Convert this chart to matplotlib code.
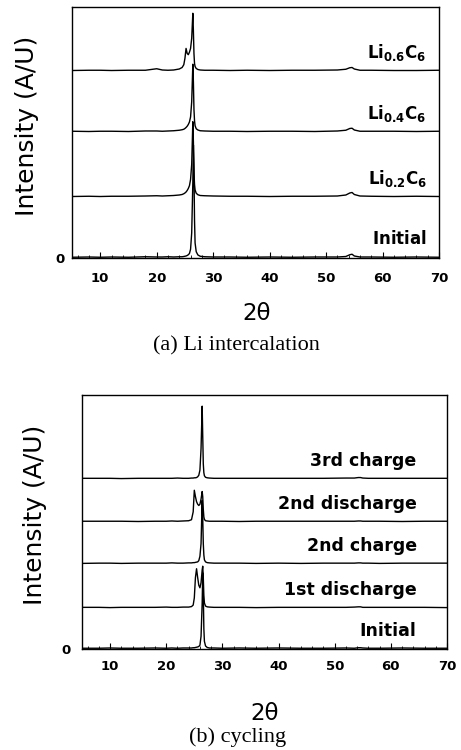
import matplotlib
matplotlib.use("Agg")
import matplotlib.pyplot as plt
from matplotlib.ticker import MultipleLocator

plt.rcParams['font.family'] = ['DejaVu Sans']
plt.rcParams['mathtext.fontset'] = 'dejavusans'

# shared 2-theta sampling (degrees)
two_theta = [5, 8, 10, 12, 15, 18, 20, 21, 22, 23, 24, 24.5, 24.8, 25.0, 25.2,
             25.4, 25.6, 25.8, 26.0, 26.2, 26.4, 26.5, 26.6, 26.7, 26.8, 27.0,
             27.3, 27.7, 28.5, 30, 33, 36, 40, 44, 48, 52, 53.5, 54.2, 54.6,
             55.0, 56, 58, 62, 66, 70]

# ---- (a) Li intercalation ----
labels_a = [r'$\mathbf{Initial}$', r'$\mathbf{Li_{0.2}C_6}$',
            r'$\mathbf{Li_{0.4}C_6}$', r'$\mathbf{Li_{0.6}C_6}$']
offsets_a = [0, 24.3, 50.2, 74.5]
initial_a = [0.3, 0.4, 0.3, 0.4, 0.3, 0.5, 0.4, 0.4, 0.5, 0.4, 0.5, 0.5, 0.6, 0.7, 0.8,
             1.0, 1.3, 1.8, 3.5, 10, 30, 45, 35, 15, 6, 2.5, 1.2, 0.7, 0.5, 0.4,
             0.4, 0.3, 0.4, 0.3, 0.4, 0.4, 0.6, 1.3, 1.5, 0.8, 0.4, 0.4, 0.3, 0.4, 0.3]
li02 = [0.2, 0.3, 0.2, 0.3, 0.3, 0.4, 0.5, 0.4, 0.5, 0.6, 0.8, 1.0, 1.3, 1.6, 2.0,
        2.6, 3.4, 4.5, 7, 13, 30, 22, 10, 5, 2.8, 1.5, 0.9, 0.6, 0.5, 0.4,
        0.3, 0.3, 0.2, 0.3, 0.3, 0.4, 0.8, 1.6, 1.8, 1.0, 0.4, 0.3, 0.2, 0.3, 0.2]
li04 = [0.3, 0.2, 0.3, 0.3, 0.2, 0.4, 0.4, 0.3, 0.4, 0.5, 0.7, 0.9, 1.1, 1.4, 1.8,
        2.3, 3.0, 4.0, 6, 12, 27, 20, 9, 4.5, 2.5, 1.3, 0.8, 0.5, 0.4, 0.3,
        0.3, 0.2, 0.3, 0.3, 0.2, 0.4, 0.7, 1.4, 1.5, 0.8, 0.3, 0.3, 0.3, 0.2, 0.3]
li06 = [0.2, 0.3, 0.3, 0.2, 0.3, 0.3, 0.9, 0.4, 0.3, 0.4, 0.8, 1.4, 2.5, 5, 9,
        7, 6.5, 7.5, 9, 13, 23, 16, 7, 3, 1.8, 1.0, 0.6, 0.4, 0.3, 0.3,
        0.2, 0.3, 0.2, 0.3, 0.3, 0.4, 0.7, 1.3, 1.4, 0.8, 0.3, 0.3, 0.2, 0.2, 0.3]
series_a = [initial_a, li02, li04, li06]

# ---- (b) cycling ----
labels_b = ['Initial', '1st discharge', '2nd charge', '2nd discharge', '3rd charge']
offsets_b = [0, 16.1, 33.5, 50.0, 66.9]
initial_b = [0.3, 0.3, 0.4, 0.3, 0.3, 0.4, 0.3, 0.4, 0.3, 0.4, 0.4, 0.4, 0.5, 0.5, 0.6,
             0.7, 0.8, 1.0, 1.5, 5, 18, 30, 22, 8, 3, 1.2, 0.6, 0.4, 0.4, 0.3,
             0.4, 0.3, 0.4, 0.3, 0.3, 0.4, 0.3, 0.5, 0.5, 0.4, 0.3, 0.3, 0.4, 0.3, 0.3]
dis1 = [0.3, 0.3, 0.2, 0.3, 0.3, 0.3, 0.4, 0.3, 0.3, 0.4, 0.4, 0.6, 1.2, 4, 12,
        15.5, 12, 9, 8, 10, 15, 16.5, 12, 5, 2, 0.8, 0.5, 0.4, 0.3, 0.3,
        0.3, 0.2, 0.3, 0.3, 0.3, 0.3, 0.4, 0.5, 0.5, 0.3, 0.3, 0.3, 0.3, 0.3, 0.2]
chg2 = [0.2, 0.3, 0.3, 0.2, 0.3, 0.3, 0.3, 0.4, 0.3, 0.3, 0.4, 0.4, 0.5, 0.5, 0.6,
        0.7, 0.8, 1.3, 3, 8, 25, 18, 8, 3.5, 1.6, 0.8, 0.5, 0.4, 0.3, 0.3,
        0.3, 0.2, 0.3, 0.2, 0.3, 0.3, 0.3, 0.4, 0.4, 0.3, 0.3, 0.2, 0.3, 0.3, 0.3]
dis2 = [0.3, 0.3, 0.3, 0.3, 0.2, 0.3, 0.3, 0.4, 0.3, 0.4, 0.5, 0.9, 4, 12.5, 10,
        8, 7, 6.5, 7, 9, 12, 10, 5, 2, 1.0, 0.5, 0.4, 0.3, 0.3, 0.3,
        0.2, 0.3, 0.3, 0.3, 0.3, 0.3, 0.3, 0.4, 0.4, 0.3, 0.3, 0.3, 0.2, 0.3, 0.3]
chg3 = [0.3, 0.3, 0.3, 0.2, 0.3, 0.3, 0.3, 0.3, 0.4, 0.3, 0.3, 0.4, 0.4, 0.5, 0.5,
        0.6, 0.9, 1.5, 3.5, 12, 28.7, 17, 6, 2.5, 1.3, 0.7, 0.5, 0.4, 0.3, 0.3,
        0.3, 0.3, 0.3, 0.3, 0.3, 0.4, 0.4, 0.6, 0.6, 0.4, 0.3, 0.3, 0.3, 0.3, 0.3]
series_b = [initial_b, dis1, chg2, dis2, chg3]

xticks = [10, 20, 30, 40, 50, 60, 70]

W, H = 461, 750
fig = plt.figure(figsize=(W / 100, H / 100), dpi=100)


def make_axes(l, t, r, b):
    return fig.add_axes([l / W, 1 - b / H, (r - l) / W, (b - t) / H])


def style(ax, xpad, ypad):
    ax.set_xlim(5, 70)
    ax.set_ylim(0, 100)
    ax.set_xticks(xticks)
    ax.xaxis.set_minor_locator(MultipleLocator(2))
    ax.set_yticks([0])
    ax.tick_params(axis='x', which='major', direction='in', length=4, width=0.8,
                   pad=xpad, labelsize=9.5)
    ax.tick_params(axis='x', which='minor', direction='in', length=2, width=0.6)
    ax.tick_params(axis='y', direction='in', length=0, pad=ypad, labelsize=9.5)
    for lab in ax.get_xticklabels() + ax.get_yticklabels():
        lab.set_fontweight('bold')
    for s in ax.spines.values():
        s.set_linewidth(1.0)


# top panel
ax1 = make_axes(72, 7, 439, 258)
for ys, off, lab in zip(series_a, offsets_a, labels_a):
    ax1.plot(two_theta, [v + off for v in ys], color='black', lw=1.0)
    ax1.text(67.8, off + 7.5, lab, ha='right', va='center', fontsize=12)
style(ax1, 10, 5)

# bottom panel
ax2 = make_axes(82, 395, 447, 649)
for ys, off, lab in zip(series_b, offsets_b, labels_b):
    ax2.plot(two_theta, [v + off for v in ys], color='black', lw=1.0)
    ax2.text(64.6, off + 7.0, lab, ha='right', va='center', fontsize=12.5,
             fontweight='bold')
style(ax2, 8, 8)

# axis titles / captions
fig.text(27 / W, 1 - 126 / H, 'Intensity (A/U)', rotation=90, ha='center',
         va='center', fontsize=18)
fig.text(35 / W, 1 - 515 / H, 'Intensity (A/U)', rotation=90, ha='center',
         va='center', fontsize=18)
fig.text(257 / W, 1 - 313 / H, '2θ', ha='center', va='center', fontsize=16.5)
fig.text(265 / W, 1 - 713 / H, '2θ', ha='center', va='center', fontsize=16.5)
fig.text(236 / W, 1 - 346 / H, '(a) Li intercalation', ha='center', va='center',
         fontsize=16, family='Liberation Serif')
fig.text(238 / W, 1 - 737 / H, '(b) cycling', ha='center', va='center',
         fontsize=16, family='Liberation Serif')

fig.savefig('out.png', dpi=100)
